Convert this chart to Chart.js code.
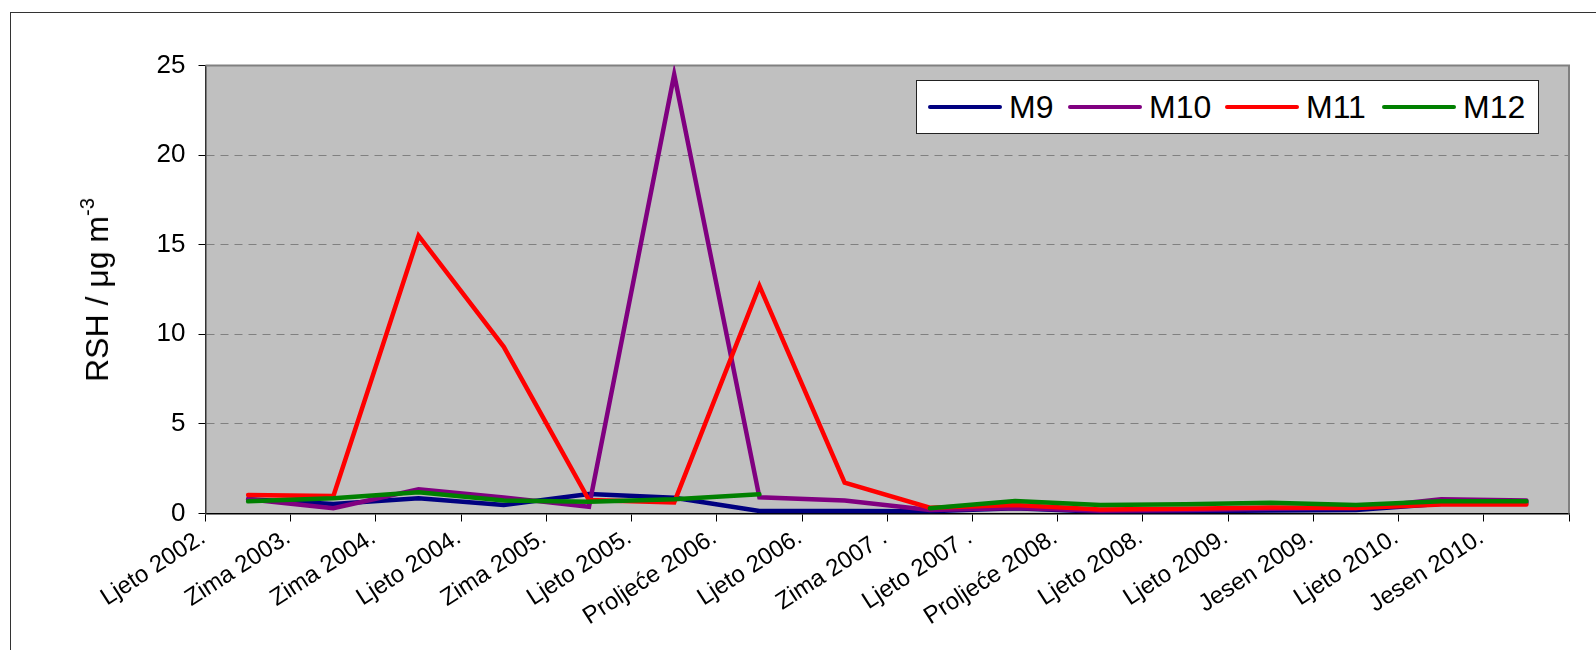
<!DOCTYPE html>
<html>
<head>
<meta charset="utf-8">
<script src="https://cdn.jsdelivr.net/npm/chart.js@4.4.1/dist/chart.umd.min.js"></script>
<style>
  html, body { margin: 0; padding: 0; background: #fff; overflow: hidden; }
  #wrap { position: relative; width: 1596px; height: 650px; }
  #frame { position: absolute; left: 10px; top: 12px; width: 1640px; height: 700px; border: 1.5px solid #333; box-sizing: border-box; }
  canvas { position: absolute; left: 0; top: 0; }
  #ytitle { position: absolute; left: 97px; top: 290px; transform: translate(-50%, -50%) rotate(-90deg); white-space: nowrap; font-family: 'Liberation Sans', Arial, sans-serif; font-size: 32px; color: #000; line-height: 1; }
  #ytitle sup { font-size: 20px; position: relative; top: -4px; vertical-align: top; }
  #legend { position: absolute; left: 916px; top: 80px; width: 623px; height: 54px; background: #fff; border: 1px solid #222; box-sizing: border-box; font-family: 'Liberation Sans', Arial, sans-serif; font-size: 32px; color: #000; }
  .item { position: absolute; top: 0; height: 52px; display: flex; align-items: center; }
  .swatch { width: 74px; height: 4px; border-radius: 2px; margin-right: 7px; }
</style>
</head>
<body>
<div id="wrap">
  <div id="frame"></div>
  <canvas id="c" width="1596" height="650"></canvas>
  <div id="ytitle">RSH / μg m<sup>-3</sup></div>
  <div id="legend"></div>
</div>
<script>
const categories = ["Ljeto 2002.", "Zima 2003.", "Zima 2004.", "Ljeto 2004.", "Zima 2005.", "Ljeto 2005.", "Proljeće 2006.", "Ljeto 2006.", "Zima 2007 .", "Ljeto 2007 .", "Proljeće 2008.", "Ljeto 2008.", "Ljeto 2009.", "Jesen 2009.", "Ljeto 2010.", "Jesen 2010."];
const seriesNames = ["M9", "M10", "M11", "M12"];
const seriesColors = ["#000080", "#800080", "#FF0000", "#008000"];
const m9  = [0.79, 0.53, 0.85, 0.47, 1.09, 0.88, 0.14, 0.14, 0.12, 0.29, 0.10, 0.13, 0.17, 0.20, 0.55, 0.60];
const m10 = [0.80, 0.29, 1.35, 0.90, 0.38, 24.5, 0.90, 0.72, 0.20, 0.30, 0.16, 0.20, 0.26, 0.30, 0.79, 0.73];
const m11 = [1.03, 0.97, 15.5, 9.3, 0.75, 0.62, 12.7, 1.72, 0.32, 0.47, 0.23, 0.27, 0.33, 0.30, 0.50, 0.50];
const m12 = [0.68, 0.85, 1.18, 0.72, 0.66, 0.79, 1.07, null, 0.29, 0.70, 0.47, 0.51, 0.60, 0.47, 0.68, 0.68];
const yTicks = [0, 5, 10, 15, 20, 25];

const FONT = "'Liberation Sans', Arial, sans-serif";
const values = [m9, m10, m11, m12];

const plotBg = {
  id: 'plotBg',
  beforeDraw(chart) {
    const {ctx, chartArea: a} = chart;
    ctx.save();
    ctx.fillStyle = '#C0C0C0';
    ctx.fillRect(a.left, a.top, a.right - a.left, a.bottom - a.top);
    ctx.restore();
  },
  beforeDatasetsDraw(chart) {
    const {ctx, chartArea: a} = chart;
    ctx.save();
    ctx.strokeStyle = '#808080';
    ctx.lineWidth = 2;
    ctx.beginPath();
    ctx.moveTo(a.left, a.top);
    ctx.lineTo(a.right, a.top);
    ctx.lineTo(a.right, a.bottom);
    ctx.stroke();
    ctx.restore();
  }
};

const datasets = seriesNames.map((n, i) => ({
  label: n,
  data: values[i],
  borderColor: seriesColors[i],
  backgroundColor: seriesColors[i],
  borderWidth: 4.5,
  pointRadius: 0,
  tension: 0,
  spanGaps: false,
  borderCapStyle: 'round',
  order: 4 - i
}));

new Chart(document.getElementById('c'), {
  type: 'line',
  data: { labels: categories, datasets },
  options: {
    responsive: false,
    animation: false,
    devicePixelRatio: 1,
    layout: { padding: { left: 0, top: 65.5, right: 27, bottom: 0 } },
    plugins: { legend: { display: false }, tooltip: { enabled: false } },
    scales: {
      x: {
        offset: true,
        grid: { offset: true, drawOnChartArea: false, drawTicks: true, tickLength: 8, tickColor: '#000', tickWidth: 1 },
        border: { color: '#000', width: 1.5 },
        ticks: { autoSkip: false, minRotation: 33, maxRotation: 33, labelOffset: -45, padding: 2, color: '#000', font: { family: FONT, size: 24 } },
        afterFit(s) { s.height = 136.5; }
      },
      y: {
        min: 0, max: 25,
        afterBuildTicks(s) { s.ticks = yTicks.map(v => ({ value: v })); },
        grid: {
          color: c => (c.tick && (c.tick.value === 0 || c.tick.value === 25)) ? 'rgba(0,0,0,0)' : '#808080',
          lineWidth: 1, tickLength: 7, tickColor: '#000', tickWidth: 1
        },
        border: { color: '#333', width: 1.5, dash: [8, 6] },
        ticks: { padding: 13, color: '#000', font: { family: FONT, size: 26 } },
        afterFit(s) { s.width = 205.5; }
      }
    }
  },
  plugins: [plotBg]
});

const legend = document.getElementById('legend');
const lefts = [11, 151, 308, 465];
seriesNames.forEach((n, i) => {
  const it = document.createElement('div');
  it.className = 'item';
  it.style.left = lefts[i] + 'px';
  const sw = document.createElement('span');
  sw.className = 'swatch';
  sw.style.background = seriesColors[i];
  const tx = document.createElement('span');
  tx.textContent = n;
  it.appendChild(sw); it.appendChild(tx);
  legend.appendChild(it);
});
</script>
</body>
</html>
